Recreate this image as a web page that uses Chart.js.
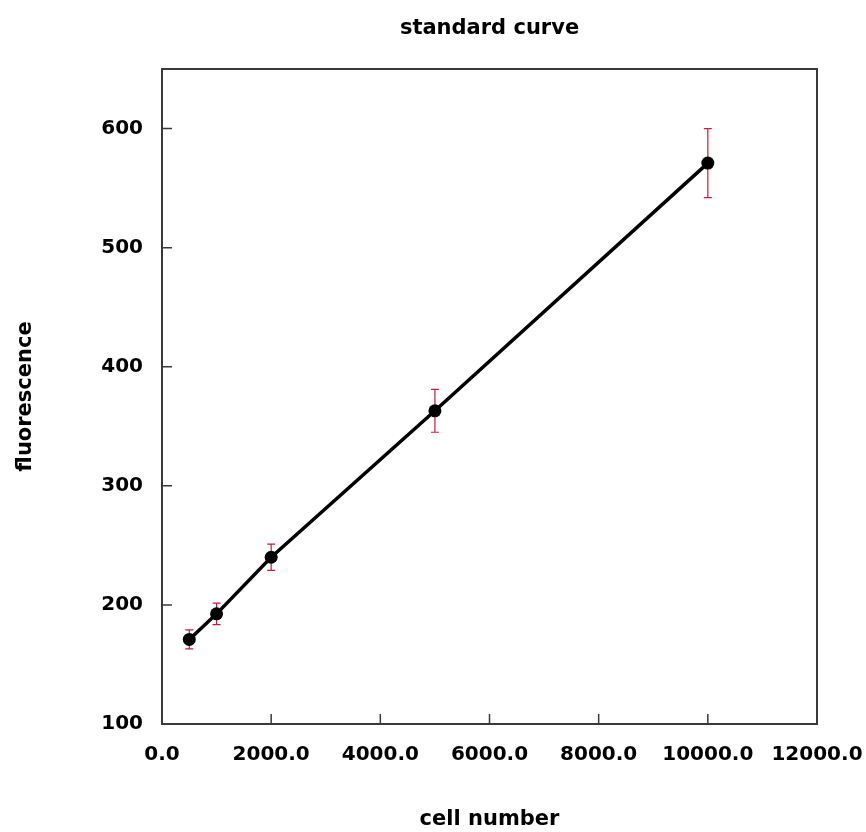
<!DOCTYPE html>
<html>
<head>
<meta charset="utf-8">
<title>standard curve</title>
<script src="https://cdn.jsdelivr.net/npm/chart.js@4"></script>
<style>
    html, body { margin: 0; padding: 0; background: #fff; }
    #wrap { width: 866px; height: 832px; position: relative; }
</style>
</head>
<body>
<div id="wrap"><canvas id="chart"></canvas></div>
<script>
// Values
const cellNumbers = [500, 1000, 2000, 5000, 10000];
const fluorescence = [171, 192.5, 240, 363, 571];
const errors = [8, 9, 11, 18, 29];

const xTicks = [0, 2000, 4000, 6000, 8000, 10000, 12000];
const yTicks = [100, 200, 300, 400, 500, 600];

const FONT = "'DejaVu Sans', sans-serif";

// Red error bars drawn behind the markers
const errorBars = {
    id: 'errorBars',
    beforeDatasetsDraw(chart) {
        const { ctx, scales: { x, y } } = chart;
        ctx.save();
        ctx.strokeStyle = '#c41e3a';
        ctx.lineWidth = 1.2;
        cellNumbers.forEach((c, i) => {
            const px = x.getPixelForValue(c);
            const top = y.getPixelForValue(fluorescence[i] + errors[i]);
            const bot = y.getPixelForValue(fluorescence[i] - errors[i]);
            ctx.beginPath();
            ctx.moveTo(px, top);
            ctx.lineTo(px, bot);
            ctx.moveTo(px - 4, top);
            ctx.lineTo(px + 4, top);
            ctx.moveTo(px - 4, bot);
            ctx.lineTo(px + 4, bot);
            ctx.stroke();
        });
        ctx.restore();
    }
};

// Box around the plot and short inward ticks
const frame = {
    id: 'frame',
    afterDraw(chart) {
        const { ctx, chartArea: a, scales: { x, y } } = chart;
        ctx.save();
        ctx.strokeStyle = '#3a3a3a';
        ctx.lineWidth = 2;
        ctx.strokeRect(a.left, a.top, a.right - a.left, a.bottom - a.top);
        ctx.lineWidth = 1.5;
        ctx.beginPath();
        xTicks.slice(1, -1).forEach(v => {
            const px = x.getPixelForValue(v);
            ctx.moveTo(px, a.bottom);
            ctx.lineTo(px, a.bottom - 10);
        });
        yTicks.slice(1).forEach(v => {
            const py = y.getPixelForValue(v);
            ctx.moveTo(a.left, py);
            ctx.lineTo(a.left + 10, py);
        });
        ctx.stroke();
        ctx.restore();
    }
};

new Chart(document.getElementById('chart'), {
    type: 'scatter',
    data: {
        datasets: [{
            label: 'fluorescence',
            data: cellNumbers.map((c, i) => ({ x: c, y: fluorescence[i] })),
            showLine: true,
            borderColor: '#000',
            borderWidth: 3.5,
            backgroundColor: '#000',
            pointRadius: 6.5,
            pointBorderWidth: 0,
            tension: 0
        }]
    },
    options: {
        responsive: true,
        maintainAspectRatio: false,
        animation: false,
        layout: { padding: { left: 0, right: 49, top: 0, bottom: 0 } },
        plugins: {
            legend: { display: false },
            tooltip: { enabled: false },
            title: {
                display: true,
                text: 'standard curve',
                fullSize: false,
                color: '#000',
                font: { family: FONT, size: 21, weight: 'bold' },
                padding: { top: 16, bottom: 27.8 }
            }
        },
        scales: {
            x: {
                type: 'linear',
                min: 0,
                max: 12000,
                afterBuildTicks: s => { s.ticks = xTicks.map(v => ({ value: v })); },
                afterFit: s => { s.height = 108; s.paddingLeft = 0; s.paddingRight = 0; },
                grid: { display: false, drawTicks: false },
                border: { display: false },
                ticks: {
                    padding: 19,
                    maxRotation: 0,
                    autoSkip: false,
                    color: '#000',
                    font: { family: FONT, size: 20, weight: 'bold' },
                    callback: v => v.toFixed(1)
                },
                title: {
                    display: true,
                    text: 'cell number',
                    color: '#000',
                    font: { family: FONT, size: 21, weight: 'bold' },
                    padding: { top: 0, bottom: 0 }
                }
            },
            y: {
                type: 'linear',
                min: 100,
                max: 650,
                afterBuildTicks: s => { s.ticks = yTicks.map(v => ({ value: v })); },
                afterFit: s => { s.width = 162; s.paddingTop = 0; s.paddingBottom = 0; },
                grid: { display: false, drawTicks: false },
                border: { display: false },
                ticks: {
                    padding: 19,
                    autoSkip: false,
                    color: '#000',
                    font: { family: FONT, size: 20, weight: 'bold' }
                },
                title: {
                    display: true,
                    text: 'fluorescence',
                    color: '#000',
                    font: { family: FONT, size: 21, weight: 'bold' },
                    padding: { top: 13, bottom: 0 }
                }
            }
        }
    },
    plugins: [errorBars, frame]
});
</script>
</body>
</html>
